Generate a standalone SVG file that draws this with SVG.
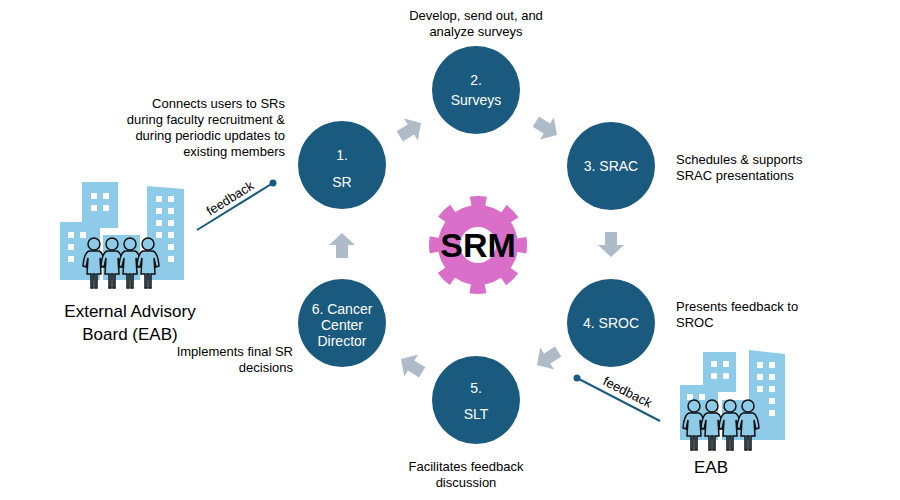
<svg xmlns="http://www.w3.org/2000/svg" width="900" height="500" viewBox="0 0 900 500" xmlns:xlink="http://www.w3.org/1999/xlink">
<style>
text{font-family:"Liberation Sans",Arial,sans-serif;fill:#000}
.n{fill:#1a5a7e}
.nl{fill:#fff;font-size:14px;text-anchor:middle}
.d{font-size:13px}
.arr{fill:#aebbc9}
.bld{fill:#8ecbe8}
.win{fill:#fff}
.fb{stroke:#1a5a7e;stroke-width:2;fill:none}
.ppl{fill:#8ecbe8;stroke:#111;stroke-width:1.5}
</style>
<defs>
<path id="arrow" class="arr" d="M-12,-6 L1,-6 L1,-13 L13,0 L1,13 L1,6 L-12,6 Z"/>
<g id="person">
<circle cx="0" cy="0" r="6"/>
<path d="M-5,7 Q-10,9 -11,22 L-8,23 L-6,14 L-7,30 L-3,30 L-3,44 L-1,44 L-1,30 L1,30 L1,44 L3,44 L3,30 L7,30 L6,14 L8,23 L11,22 Q10,9 5,7 Z"/>
</g>
</defs>

<g id="eab-left">
<rect class="bld" x="60" y="222" width="40" height="58"/>
<rect class="bld" x="82" y="182" width="36" height="46"/>
<rect class="bld" x="103" y="235" width="37" height="45"/>
<path class="bld" d="M147,186 L184,189 L184,280 L147,280 Z"/>
<g class="win">
<rect x="91" y="193" width="6" height="6"/><rect x="103" y="193" width="6" height="6"/>
<rect x="91" y="205" width="6" height="6"/><rect x="103" y="205" width="6" height="6"/>
<rect x="68" y="232" width="6" height="6"/><rect x="80" y="232" width="6" height="6"/>
<rect x="156" y="196" width="6" height="6"/><rect x="168" y="196" width="6" height="6"/>
<rect x="156" y="208" width="6" height="6"/><rect x="168" y="208" width="6" height="6"/>
<rect x="156" y="220" width="6" height="6"/><rect x="168" y="220" width="6" height="6"/>
<rect x="156" y="232" width="6" height="6"/><rect x="168" y="232" width="6" height="6"/>
<rect x="68" y="244" width="6" height="6"/><rect x="68" y="256" width="6" height="6"/>
<rect x="168" y="244" width="6" height="6"/><rect x="168" y="256" width="6" height="6"/>
</g>
<g class="ppl">
<use xlink:href="#person" x="94" y="244"/>
<use xlink:href="#person" x="112" y="244"/>
<use xlink:href="#person" x="130" y="244"/>
<use xlink:href="#person" x="148" y="244"/>
</g>
<text x="130" y="317" font-size="17" text-anchor="middle">External Advisory</text>
<text x="130" y="340" font-size="17" text-anchor="middle">Board (EAB)</text>
</g>

<g id="eab-right">
<rect class="bld" x="680" y="385" width="38" height="55"/>
<rect class="bld" x="703" y="352" width="33" height="40"/>
<rect class="bld" x="722" y="400" width="36" height="40"/>
<path class="bld" d="M749,350 L785,354 L785,440 L749,440 Z"/>
<g class="win">
<rect x="711" y="361" width="6" height="6"/><rect x="723" y="361" width="6" height="6"/>
<rect x="711" y="373" width="6" height="6"/><rect x="723" y="373" width="6" height="6"/>
<rect x="687" y="394" width="6" height="6"/><rect x="699" y="394" width="6" height="6"/>
<rect x="757" y="362" width="6" height="6"/><rect x="769" y="362" width="6" height="6"/>
<rect x="757" y="374" width="6" height="6"/><rect x="769" y="374" width="6" height="6"/>
<rect x="757" y="386" width="6" height="6"/><rect x="769" y="386" width="6" height="6"/>
<rect x="769" y="398" width="6" height="6"/><rect x="769" y="410" width="6" height="6"/>
</g>
<g class="ppl">
<use xlink:href="#person" x="694" y="406"/>
<use xlink:href="#person" x="712" y="406"/>
<use xlink:href="#person" x="730" y="406"/>
<use xlink:href="#person" x="748" y="406"/>
</g>
<text x="711" y="473" font-size="17" text-anchor="middle">EAB</text>
</g>

<g id="srm">
<circle cx="478" cy="245" r="43" fill="none" stroke="#da6fca" stroke-width="12" stroke-dasharray="15 18.774" stroke-dashoffset="7.5"/>
<circle cx="478" cy="245" r="40" fill="#da6fca"/>
<circle cx="478" cy="245" r="18" fill="#fff"/>
<text x="478" y="257" font-size="34" font-weight="bold" text-anchor="middle">SRM</text>
</g>

<g id="connectors">
<use xlink:href="#arrow" transform="translate(410,130) rotate(-32)"/>
<use xlink:href="#arrow" transform="translate(546,128) rotate(32)"/>
<use xlink:href="#arrow" transform="translate(611,244) rotate(90)"/>
<use xlink:href="#arrow" transform="translate(548,358) rotate(148)"/>
<use xlink:href="#arrow" transform="translate(412,366) rotate(-148)"/>
<use xlink:href="#arrow" transform="translate(342,246) rotate(-90)"/>
<line class="fb" x1="197" y1="230" x2="273" y2="183"/>
<circle cx="273" cy="183" r="3.5" fill="#1a5a7e"/>
<text class="d" font-size="11" transform="translate(210,216) rotate(-32)">feedback</text>
<line class="fb" x1="577" y1="378" x2="660" y2="421"/>
<circle cx="577" cy="378" r="3.5" fill="#1a5a7e"/>
<text class="d" font-size="11" transform="translate(602,384) rotate(27)">feedback</text>
</g>

<g id="n1"><circle class="n" cx="342" cy="165" r="44"/>
<text class="nl" x="342" y="160">1.</text><text class="nl" x="342" y="187">SR</text>
<text class="d" x="285" y="108" text-anchor="end">Connects users to SRs</text>
<text class="d" x="285" y="124" text-anchor="end">during faculty recruitment &amp;</text>
<text class="d" x="285" y="140" text-anchor="end">during periodic updates to</text>
<text class="d" x="285" y="156" text-anchor="end">existing members</text></g>

<g id="n2"><circle class="n" cx="476" cy="90" r="44"/>
<text class="nl" x="476" y="85">2.</text><text class="nl" x="476" y="105">Surveys</text>
<text class="d" x="476" y="20" text-anchor="middle">Develop, send out, and</text>
<text class="d" x="476" y="36" text-anchor="middle">analyze surveys</text></g>

<g id="n3"><circle class="n" cx="611" cy="166" r="44"/>
<text class="nl" x="611" y="171">3. SRAC</text>
<text class="d" x="676" y="164">Schedules &amp; supports</text>
<text class="d" x="676" y="180">SRAC presentations</text></g>

<g id="n4"><circle class="n" cx="611" cy="323" r="44"/>
<text class="nl" x="611" y="328">4. SROC</text>
<text class="d" x="676" y="311">Presents feedback to</text>
<text class="d" x="676" y="327">SROC</text></g>

<g id="n5"><circle class="n" cx="476" cy="400" r="44"/>
<text class="nl" x="476" y="393">5.</text><text class="nl" x="476" y="419">SLT</text>
<text class="d" x="466" y="471" text-anchor="middle">Facilitates feedback</text>
<text class="d" x="466" y="487" text-anchor="middle">discussion</text></g>

<g id="n6"><circle class="n" cx="342" cy="323" r="44"/>
<text class="nl" x="342" y="314">6. Cancer</text><text class="nl" x="342" y="330">Center</text><text class="nl" x="342" y="346">Director</text>
<text class="d" x="293" y="356" text-anchor="end">Implements final SR</text>
<text class="d" x="293" y="372" text-anchor="end">decisions</text></g>
</svg>
